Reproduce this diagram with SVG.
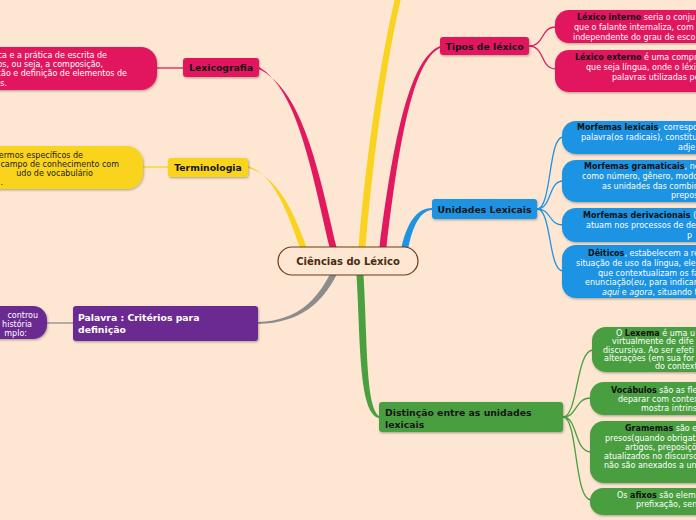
<svg xmlns="http://www.w3.org/2000/svg" width="696" height="520" viewBox="0 0 696 520">
<defs>
<filter id="sh" x="-10%" y="-20%" width="130%" height="160%">
<feDropShadow dx="0.8" dy="1.2" stdDeviation="0.8" flood-color="#000" flood-opacity="0.3"/>
</filter>
</defs>
<style>
text{font-family:"DejaVu Sans","Verdana",sans-serif}
.t{font-size:9.3px;font-weight:bold;fill:#161616}
.b{font-size:8px;fill:#fff}
.bd{font-size:8px;fill:#222}
.k{font-weight:bold;fill:#111}
.i{font-style:italic}
.pink{fill:#e2195e}
.yel{fill:#f9d31f}
.blue{fill:#1f93e3}
.green{fill:#4a9f3f}
.purp{fill:#6a2c91}
.thin{fill:none;stroke-width:1.3}
</style>
<rect width="696" height="520" fill="#fde7d2"/>

<g id="connectors">
<path class="yel" d="M299.5,247 C287,210 273,174 248,166 L248,168 C277,176 293,210 306.5,247 Z"/>
<path class="pink" d="M329.5,247 C311.5,170 297,89 259,67 L259,69 C303,91 318.5,170 336.5,247 Z"/>
<path class="yel" d="M358.5,247 C366.5,150 382,50 397,-10 L403,-10 C388,50 373.5,150 365.5,247 Z"/>
<path class="pink" d="M379.5,247 C392,150 408,59 440,46 L440,48 C412,61 398,150 386.5,247 Z"/>
<path class="blue" d="M401.5,247 C407,224 416,208 432,208 L432,210 C420,211 413,226 408.5,247 Z"/>
<path fill="#8c8c8c" d="M329.5,275 C317,299 298,321 258,322 L258,324 C302,323 323,301 336.5,275 Z"/>
<path class="green" d="M356.5,275 C360.5,340 358.5,414 379,418 L379,416 C365.5,406 367.5,340 363.5,275 Z"/>
<path class="thin" stroke="#e2195e" d="M183,68 L157,68"/>
<path class="thin" stroke="#f9d31f" d="M168,167 L143,167"/>
<path class="thin" stroke="#8c8c8c" d="M73,323 L47,323"/>
<path class="thin" stroke="#e2195e" d="M529,46 C545,46 540,27 556,27 M529,46 C545,46 540,69 556,69"/>
<path class="thin" stroke="#1f93e3" d="M537,209 C552,209 548,137 563,137 M537,209 C552,209 548,181 563,181 M537,209 C552,209 548,225 563,225 M537,209 C552,209 548,271 563,271"/>
<path class="thin" stroke="#4a9f3f" d="M563,417 C578,417 576,350 593,350 M563,417 C578,417 574,398 591,398 M563,417 C578,417 574,452 591,452 M563,417 C578,417 574,500 591,500"/>
</g>

<g id="center">
<rect x="278" y="247" width="140" height="28" rx="14" fill="#fde7d2" stroke="#6b3a16" stroke-width="1.2"/>
<text x="348" y="265" text-anchor="middle" font-size="10px" font-weight="bold" fill="#4a2a10">Ciências do Léxico</text>
</g>

<g id="lexicografia">
<rect x="183" y="58" width="76" height="19" rx="3" class="pink" filter="url(#sh)"/>
<text class="t" x="221" y="71" text-anchor="middle">Lexicografia</text>
</g>
<g id="lexicografia-note">
<rect x="-30" y="47" width="187" height="43" rx="16" class="pink" filter="url(#sh)"/>
<text class="b" text-anchor="end"><tspan x="107" y="58">ca e a prática de escrita de</tspan><tspan x="103" y="67">os, ou seja, a composição,</tspan><tspan x="127" y="76">ção e definição de elementos de</tspan><tspan x="7" y="86">os.</tspan></text>
</g>

<g id="terminologia">
<rect x="168" y="158" width="80" height="19" rx="3" class="yel" filter="url(#sh)"/>
<text class="t" x="208" y="171" text-anchor="middle">Terminologia</text>
</g>
<g id="terminologia-note">
<rect x="-30" y="146" width="173" height="43" rx="16" class="yel" filter="url(#sh)"/>
<text class="bd" text-anchor="end"><tspan x="83" y="158">ermos específicos de</tspan><tspan x="119" y="167">campo de conhecimento com</tspan><tspan x="93" y="176">udo de vocabulário</tspan><tspan x="3" y="185">.</tspan></text>
</g>

<g id="palavra">
<rect x="73" y="306" width="185" height="35" rx="3" class="purp" filter="url(#sh)"/>
<text class="t" style="fill:#fff"><tspan x="78" y="321">Palavra : Critérios para</tspan><tspan x="78" y="333">definição</tspan></text>
</g>
<g id="palavra-note">
<rect x="-30" y="306" width="77" height="33" rx="14" class="purp" filter="url(#sh)"/>
<text class="b" text-anchor="end"><tspan x="38" y="318">controu</tspan><tspan x="32" y="327">história</tspan><tspan x="27" y="336">mplo:</tspan></text>
</g>

<g id="tipos">
<rect x="440" y="37" width="89" height="18" rx="3" class="pink" filter="url(#sh)"/>
<text class="t" x="484.5" y="50" text-anchor="middle">Tipos de léxico</text>
</g>
<g id="lexico-interno">
<rect x="555" y="10" width="170" height="33" rx="14" class="pink" filter="url(#sh)"/>
<text class="b"><tspan x="577" y="20"><tspan class="k">Léxico interno</tspan> seria o conju</tspan><tspan x="574" y="30">que o falante internaliza, com</tspan><tspan x="573" y="40">independente do grau de esco</tspan></text>
</g>
<g id="lexico-externo">
<rect x="555" y="50" width="170" height="42" rx="14" class="pink" filter="url(#sh)"/>
<text class="b"><tspan x="575" y="60"><tspan class="k">Léxico externo</tspan> é uma compr</tspan><tspan x="586" y="70">que seja língua, onde o léxi</tspan><tspan x="612" y="79.5">palavras utilizadas pe</tspan></text>
</g>

<g id="unidades">
<rect x="432" y="199" width="105" height="20" rx="3" class="blue" filter="url(#sh)"/>
<text class="t" x="484.5" y="213" text-anchor="middle">Unidades Lexicais</text>
</g>
<g id="morfemas-lexicais">
<rect x="562" y="121" width="160" height="33" rx="14" class="blue" filter="url(#sh)"/>
<text class="b"><tspan x="577" y="130"><tspan class="k">Morfemas lexicais</tspan>, correspo</tspan><tspan x="581" y="140">palavra(os radicais), constitu</tspan><tspan x="678" y="149.5">adje</tspan></text>
</g>
<g id="morfemas-gramaticais">
<rect x="562" y="160" width="160" height="42" rx="14" class="blue" filter="url(#sh)"/>
<text class="b"><tspan x="584" y="169"><tspan class="k">Morfemas gramaticais</tspan>, ne</tspan><tspan x="582" y="179">como número, gênero, modo</tspan><tspan x="602" y="188.5">as unidades das combin</tspan><tspan x="671" y="198">preposiç</tspan></text>
</g>
<g id="morfemas-derivacionais">
<rect x="562" y="208" width="160" height="34" rx="14" class="blue" filter="url(#sh)"/>
<text class="b"><tspan x="583" y="218"><tspan class="k">Morfemas derivacionais</tspan> (</tspan><tspan x="586" y="228">atuam nos processos de de</tspan><tspan x="687" y="237.5">p</tspan></text>
</g>
<g id="deiticos">
<rect x="562" y="245" width="160" height="53" rx="14" class="blue" filter="url(#sh)"/>
<text class="b"><tspan x="588" y="256"><tspan class="k">Dêiticos</tspan>, estabelecem a re</tspan><tspan x="576" y="266">situação de uso da língua, ele</tspan><tspan x="598" y="275.5">que contextualizam os fa</tspan><tspan x="585" y="285">enunciação(<tspan class="i">eu</tspan>, para indicar</tspan><tspan x="602" y="294.5"><tspan class="i">aqui</tspan> e <tspan class="i">agora</tspan>, situando t</tspan></text>
</g>

<g id="distincao">
<rect x="379" y="402" width="184" height="30" rx="3" class="green" filter="url(#sh)"/>
<text class="t"><tspan x="385" y="416">Distinção entre as unidades</tspan><tspan x="385" y="427.5">lexicais</tspan></text>
</g>
<g id="lexema">
<rect x="592" y="327" width="130" height="45" rx="14" class="green" filter="url(#sh)"/>
<text class="b"><tspan x="616" y="335.5">O <tspan class="k">Lexema</tspan> é uma u</tspan><tspan x="612" y="344">virtualmente de dife</tspan><tspan x="603" y="352.5">discursiva. Ao ser efeti</tspan><tspan x="604" y="361">alterações (em sua for</tspan><tspan x="655" y="369">do context</tspan></text>
</g>
<g id="vocabulos">
<rect x="590" y="382" width="132" height="33" rx="14" class="green" filter="url(#sh)"/>
<text class="b"><tspan x="611" y="393"><tspan class="k">Vocábulos</tspan> são as fle</tspan><tspan x="618" y="402">deparar com contex</tspan><tspan x="641" y="411">mostra intrins</tspan></text>
</g>
<g id="gramemas">
<rect x="590" y="421" width="132" height="62" rx="14" class="green" filter="url(#sh)"/>
<text class="b"><tspan x="625" y="431"><tspan class="k">Gramemas</tspan> são e</tspan><tspan x="605" y="440.5">presos(quando obrigat</tspan><tspan x="625" y="449.5">artigos, preposiçõ</tspan><tspan x="604" y="458.5">atualizados no discurso</tspan><tspan x="604" y="467.5">não são anexados a un</tspan></text>
</g>
<g id="afixos">
<rect x="590" y="488" width="132" height="27" rx="13" class="green" filter="url(#sh)"/>
<text class="b"><tspan x="617" y="497.5">Os <tspan class="k">afixos</tspan> são elem</tspan><tspan x="636" y="507">prefixação, sen</tspan></text>
</g>
</svg>
